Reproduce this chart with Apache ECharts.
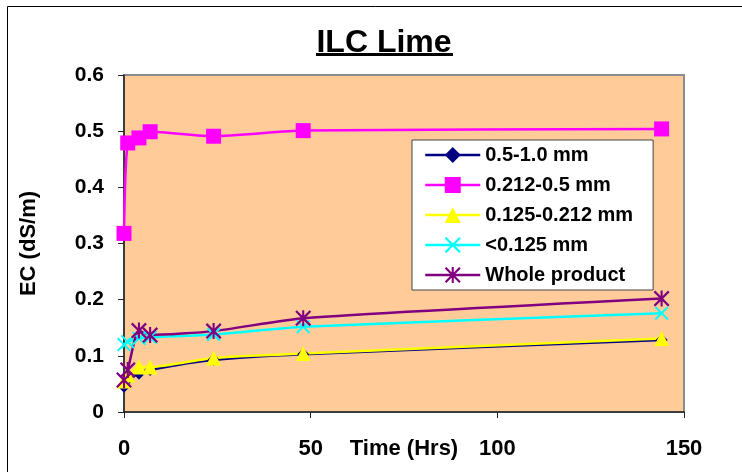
<!DOCTYPE html>
<html>
<head>
<meta charset="utf-8">
<title>ILC Lime</title>
<script src="https://cdn.jsdelivr.net/npm/echarts@6/dist/echarts.min.js"></script>
<style>
  html, body { margin: 0; padding: 0; background: #ffffff; }
  #chart { width: 742px; height: 472px; }
</style>
</head>
<body>
<div id="chart"></div>
<script>
// Sampling times (hours) and EC readings (dS/m) for each particle-size fraction
var hours = [0, 1, 4, 7, 24, 48, 144];
var ec_05_10 = [0.045, 0.058, 0.068, 0.075, 0.093, 0.103, 0.128];
var ec_0212_05 = [0.318, 0.479, 0.488, 0.499, 0.491, 0.501, 0.504];
var ec_0125_0212 = [0.055, 0.066, 0.080, 0.080, 0.096, 0.104, 0.131];
var ec_lt0125 = [0.120, 0.125, 0.131, 0.133, 0.138, 0.152, 0.176];
var ec_whole = [0.057, 0.075, 0.145, 0.137, 0.144, 0.167, 0.202];

var seriesNames = ['0.5-1.0 mm', '0.212-0.5 mm', '0.125-0.212 mm', '<0.125 mm', 'Whole product'];
var xTicks = { min: 0, max: 150, step: 50 };
var yTicks = { min: 0, max: 0.6, step: 0.1 };

var FONT = "'Liberation Sans', Arial, sans-serif";

// Marker outlines: a thick diagonal cross, and a six-armed asterisk
var crossPath = 'path://M1,0 L5,4 L9,0 L10,1 L6,5 L10,9 L9,10 L5,6 L1,10 L0,9 L4,5 L0,1 Z';
var starPath = 'path://M1,0 L5,4 L9,0 L10,1 L6,5 L10,9 L9,10 L5,6 L1,10 L0,9 L4,5 L0,1 Z M4.35,0 L5.65,0 L5.65,10 L4.35,10 Z';

function pairs(values) {
  return hours.map(function (h, i) { return [h, values[i]]; });
}

function lineSeries(name, values, color, symbol, size) {
  return {
    name: name,
    type: 'line',
    data: pairs(values),
    smooth: 0.2,
    symbol: symbol,
    symbolSize: size,
    showAllSymbol: true,
    lineStyle: { color: color, width: 2.5 },
    itemStyle: { color: color },
    emphasis: { disabled: true },
    animation: false
  };
}

var chart = echarts.init(document.getElementById('chart'), null, { renderer: 'canvas' });

chart.setOption({
  backgroundColor: '#ffffff',
  animation: false,
  grid: {
    left: 124, right: 58, top: 75, bottom: 60,
    containLabel: false,
    outerBoundsMode: 'none',
    show: true,
    backgroundColor: '#FFCC99',
    borderColor: '#8c8c8c',
    borderWidth: 2
  },
  xAxis: {
    type: 'value',
    min: xTicks.min, max: xTicks.max, interval: xTicks.step,
    name: 'Time (Hrs)',
    nameLocation: 'middle',
    nameGap: 26,
    nameMoveOverlap: false,
    nameTextStyle: { fontFamily: FONT, fontWeight: 'bold', fontSize: 22, color: '#000', verticalAlign: 'top' },
    axisLine: { lineStyle: { color: '#222', width: 1.5 } },
    axisTick: { show: true, inside: false, length: 6, lineStyle: { color: '#222', width: 1 } },
    axisLabel: { margin: 26, fontFamily: FONT, fontWeight: 'bold', fontSize: 22, color: '#000' },
    splitLine: { show: false }
  },
  yAxis: {
    type: 'value',
    min: yTicks.min, max: yTicks.max, interval: yTicks.step,
    name: 'EC (dS/m)',
    nameLocation: 'middle',
    nameGap: 84,
    nameTextStyle: { fontFamily: FONT, fontWeight: 'bold', fontSize: 22, color: '#000' },
    axisLine: { show: true, lineStyle: { color: '#222', width: 1.5 } },
    axisTick: { show: true, inside: false, length: 6, lineStyle: { color: '#222', width: 1 } },
    axisLabel: { margin: 20, fontFamily: FONT, fontWeight: 'bold', fontSize: 21, color: '#000' },
    splitLine: { show: false }
  },
  legend: {
    orient: 'vertical',
    left: 412, top: 140,
    padding: [5, 20, 5, 12],
    itemGap: 10,
    itemWidth: 55,
    itemHeight: 20,
    backgroundColor: '#ffffff',
    borderColor: '#444',
    borderWidth: 1,
    selectedMode: false,
    lineStyle: { width: 2.5 },
    textStyle: { fontFamily: FONT, fontWeight: 'bold', fontSize: 20, color: '#000' },
    data: seriesNames
  },
  graphic: [
    {
      type: 'rect',
      silent: true,
      shape: { x: 7.5, y: 6.5, width: 800, height: 800 },
      style: { fill: 'none', stroke: '#000', lineWidth: 1 }
    },
    {
      type: 'text',
      silent: true,
      x: 384,
      y: 27,
      style: { text: 'ILC Lime', font: 'bold 32px ' + FONT, fill: '#000', align: 'center', verticalAlign: 'top' }
    },
    {
      type: 'rect',
      silent: true,
      shape: { x: 316, y: 53, width: 137, height: 3 },
      style: { fill: '#000' }
    }
  ],
  series: [
    lineSeries(seriesNames[0], ec_05_10, '#000080', 'diamond', 12),
    lineSeries(seriesNames[1], ec_0212_05, '#FF00FF', 'rect', 15),
    lineSeries(seriesNames[2], ec_0125_0212, '#FFFF00', 'triangle', 15),
    lineSeries(seriesNames[3], ec_lt0125, '#00FFFF', crossPath, 14),
    lineSeries(seriesNames[4], ec_whole, '#800080', starPath, 16)
  ]
});
</script>
</body>
</html>
